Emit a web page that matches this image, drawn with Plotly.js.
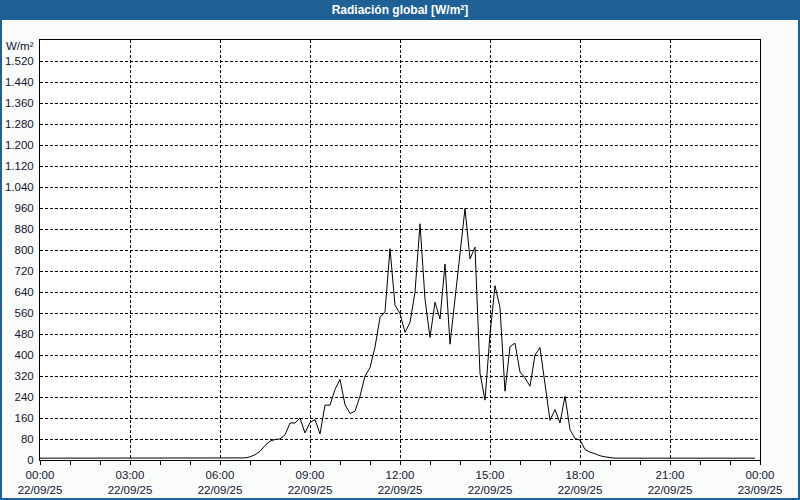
<!DOCTYPE html>
<html>
<head>
<meta charset="utf-8">
<script src="https://cdn.plot.ly/plotly-3.0.1.min.js"></script>
<style>
html,body{margin:0;padding:0;background:#FAFCFC;}
#chart{width:800px;height:500px;}
</style>
</head>
<body>
<div id="chart"></div>
<script>
// 10-minute samples, 22/09/25 00:00 .. 23:50
const startTime = '2025-09-22T00:00:00';
const stepMinutes = 10;
const radiation = [
  7,7,7,7,7,7,7,7,7,7, 7,7,7,7,7,7,7,7,7,7,
  7,7,7,7,7,7,7,7,7,7, 7,7,7,7,7,7,7,7,7,7,
  7,
  8,12,20,33,55,72,78,80,96,141,
  141,160,103,143,154,99,209,209,269,307,
  211,177,186,243,320,352,430,543,565,805,
  590,558,486,524,639,900,613,467,601,537,
  747,441,613,805,958,766,811,330,228,480,
  664,580,262,432,445,335,313,281,400,428,
  290,151,192,141,243,116,82,76,40,30,
  24,16,12,9,
  7,7,7,7,7,7,7,7,7,7, 7,7,7,7,7,7,7,7,7,7,
  7,7,7,7,7,7,7,7,7
];
const xTickVals = ['2025-09-22 00:00','2025-09-22 03:00','2025-09-22 06:00','2025-09-22 09:00','2025-09-22 12:00','2025-09-22 15:00','2025-09-22 18:00','2025-09-22 21:00','2025-09-23 00:00'];
const xTickText = ['00:00<br>22/09/25','03:00<br>22/09/25','06:00<br>22/09/25','09:00<br>22/09/25','12:00<br>22/09/25','15:00<br>22/09/25','18:00<br>22/09/25','21:00<br>22/09/25','00:00<br>23/09/25'];
const yTickVals = [0,80,160,240,320,400,480,560,640,720,800,880,960,1040,1120,1200,1280,1360,1440,1520];
const yTickText = ['0','80','160','240','320','400','480','560','640','720','800','880','960','1.040','1.120','1.200','1.280','1.360','1.440','1.520'];
const chartTitle = 'Radiación global [W/m²]';
const unitLabel = 'W/m²';

const t0 = new Date(startTime + 'Z').getTime();
const times = radiation.map((_, i) => {
  const d = new Date(t0 + i * stepMinutes * 60000);
  return d.toISOString().slice(0,16).replace('T',' ');
});

const txt = '#141432';
const blue = '#1F6096';
const W = 720, H = 420, L = 40, B = 40;
const px = p => (p - L) / W;
const py = p => (500 - B - p) / H;

const layout = {
  width: 800, height: 500,
  margin: {l: 40, r: 40, t: 40, b: 40},
  paper_bgcolor: '#FAFCFC',
  plot_bgcolor: '#FFFFFF',
  font: {family: 'Liberation Sans, Arial, sans-serif', size: 11.5, color: txt},
  showlegend: false,
  title: {text: '<b>' + chartTitle + '</b>', font: {color: '#FFFFFF', size: 12, family: 'Liberation Sans, Arial, sans-serif'},
          x: 0.5, xanchor: 'center', y: 0.98, yanchor: 'middle', yref: 'container'},
  xaxis: {
    type: 'date',
    range: ['2025-09-22 00:00', '2025-09-23 00:00'],
    tickmode: 'array', tickvals: xTickVals, ticktext: xTickText,
    ticks: 'outside', ticklen: 4, tickcolor: '#000', tickwidth: 1,
    minor: {tickmode: 'linear', tick0: '2025-09-22 00:00', dtick: 3600000, ticks: 'outside', ticklen: 4, tickcolor: '#000', showgrid: false},
    showgrid: true, gridcolor: '#000000', gridwidth: 1, griddash: '3px,2px',
    showline: true, linecolor: '#000000', linewidth: 1, mirror: true,
    zeroline: false, fixedrange: true
  },
  yaxis: {
    range: [0, 1600],
    tickmode: 'array', tickvals: yTickVals, ticktext: yTickText,
    ticks: '', ticklabelstandoff: 3,
    showgrid: true, gridcolor: '#000000', gridwidth: 1, griddash: '3px,2px',
    showline: true, linecolor: '#000000', linewidth: 1, mirror: true,
    zeroline: false, fixedrange: true
  },
  shapes: [
    {type: 'rect', xref: 'paper', yref: 'paper', x0: px(0), x1: px(800), y0: py(20), y1: py(0),
     fillcolor: blue, line: {width: 0}, layer: 'below'},
    {type: 'rect', xref: 'paper', yref: 'paper', x0: px(1), x1: px(799), y0: py(499), y1: py(1),
     fillcolor: 'rgba(0,0,0,0)', line: {color: blue, width: 2}}
  ],
  annotations: [
    {text: unitLabel, xref: 'paper', yref: 'paper', x: px(36), y: py(46), xanchor: 'right', yanchor: 'middle',
     showarrow: false, font: {size: 11.5, color: txt}}
  ]
};

Plotly.newPlot('chart', [{
  type: 'scatter', mode: 'lines', x: times, y: radiation,
  line: {color: '#000000', width: 1}, hoverinfo: 'skip'
}], layout, {staticPlot: true, displayModeBar: false});
</script>
</body>
</html>
